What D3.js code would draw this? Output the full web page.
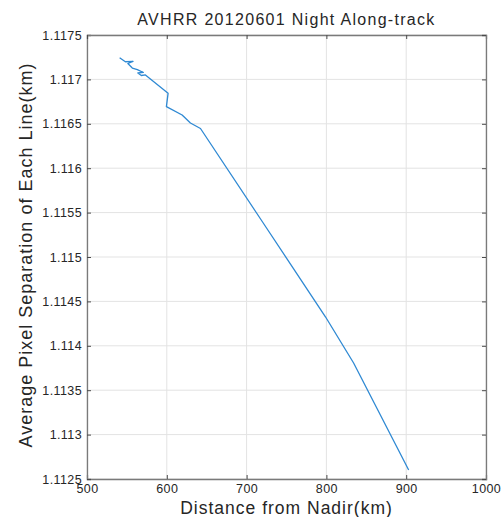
<!DOCTYPE html>
<html>
<head>
<meta charset="utf-8">
<script src="https://cdn.jsdelivr.net/npm/d3@7"></script>
<style>
  body { margin: 0; background: #fff; }
  text { font-family: "Liberation Sans", Arial, sans-serif; fill: #262626; }
</style>
</head>
<body>
<script>
const width = 503;
const height = 517;
const margin = { top: 35, right: 17, bottom: 38, left: 87 };

const chartWidth = width - margin.left - margin.right;
const chartHeight = height - margin.top - margin.bottom;

// values
const distance = [540.9, 548.1, 557.7, 551.2, 556.8, 563.1, 570.6, 563.7, 568.1, 573.2,
  601.6, 599.5, 619.2, 629.6, 642.2, 720.0, 799.0, 834.1, 903.1];
const separation = [1.117244, 1.117199, 1.117202, 1.117179, 1.117128, 1.117111, 1.117078,
  1.117072, 1.117044, 1.117050, 1.116843, 1.116693, 1.116599, 1.116509, 1.116447,
  1.115394, 1.114324, 1.113806, 1.112601];
const xTicks = [500, 600, 700, 800, 900, 1000];
const yTicks = [1.1125, 1.113, 1.1135, 1.114, 1.1145, 1.115, 1.1155, 1.116, 1.1165, 1.117, 1.1175];

const svg = d3.select("body")
  .append("svg")
  .attr("width", width)
  .attr("height", height);

const g = svg.append("g")
  .attr("transform", `translate(${margin.left}, ${margin.top})`);

const x = d3.scaleLinear()
  .domain([500, 1000])
  .range([0, chartWidth]);

const y = d3.scaleLinear()
  .domain([1.1125, 1.1175])
  .range([chartHeight, 0]);

// grid
g.append("g")
  .selectAll("line")
  .data(xTicks)
  .join("line")
    .attr("x1", d => x(d))
    .attr("x2", d => x(d))
    .attr("y1", 0)
    .attr("y2", chartHeight)
    .attr("stroke", "#e3e3e3");

g.append("g")
  .selectAll("line")
  .data(yTicks)
  .join("line")
    .attr("x1", 0)
    .attr("x2", chartWidth)
    .attr("y1", d => y(d))
    .attr("y2", d => y(d))
    .attr("stroke", "#e3e3e3");

// data line
const pts = distance.map((d, i) => [d, separation[i]]);
g.append("path")
  .datum(pts)
  .attr("fill", "none")
  .attr("stroke", "#2f89d3")
  .attr("stroke-width", 1.3)
  .attr("stroke-linejoin", "round")
  .attr("d", d3.line().x(d => x(d[0])).y(d => y(d[1])));

// axes (ticks inward, matlab-like box)
const xAxis = d3.axisBottom(x)
  .tickValues(xTicks)
  .tickSize(-4)
  .tickPadding(5)
  .tickFormat(d3.format("d"));
g.append("g")
  .attr("transform", `translate(0, ${chartHeight})`)
  .call(xAxis);

const yAxis = d3.axisLeft(y)
  .tickValues(yTicks)
  .tickSize(-4)
  .tickPadding(5)
  .tickFormat(d => String(+d.toFixed(4)));
g.append("g")
  .call(yAxis);

g.append("g")
  .call(d3.axisTop(x).tickValues(xTicks).tickSize(-4).tickFormat(""));
g.append("g")
  .attr("transform", `translate(${chartWidth}, 0)`)
  .call(d3.axisRight(y).tickValues(yTicks).tickSize(-4).tickFormat(""));

g.selectAll(".domain").attr("stroke", "#7a7a7a").attr("stroke-width", 1.3);
g.selectAll(".tick line").attr("stroke", "#4a4a4a");
g.selectAll(".tick text")
  .attr("font-size", 12.5)
  .attr("letter-spacing", 0.4)
  .attr("font-family", "'Liberation Sans', Arial, sans-serif")
  .attr("fill", "#262626");

// title and labels
svg.append("text")
  .attr("x", margin.left + chartWidth / 2)
  .attr("y", 25)
  .attr("text-anchor", "middle")
  .attr("font-size", 16)
  .attr("letter-spacing", 1.3)
  .text("AVHRR 20120601 Night Along-track");

svg.append("text")
  .attr("x", margin.left + chartWidth / 2)
  .attr("y", 514)
  .attr("text-anchor", "middle")
  .attr("font-size", 17.5)
  .attr("letter-spacing", 1)
  .text("Distance from Nadir(km)");

svg.append("text")
  .attr("transform", `translate(32, ${margin.top + chartHeight / 2 - 2}) rotate(-90)`)
  .attr("text-anchor", "middle")
  .attr("font-size", 18)
  .attr("letter-spacing", 1)
  .text("Average Pixel Separation of Each Line(km)");
</script>
</body>
</html>
